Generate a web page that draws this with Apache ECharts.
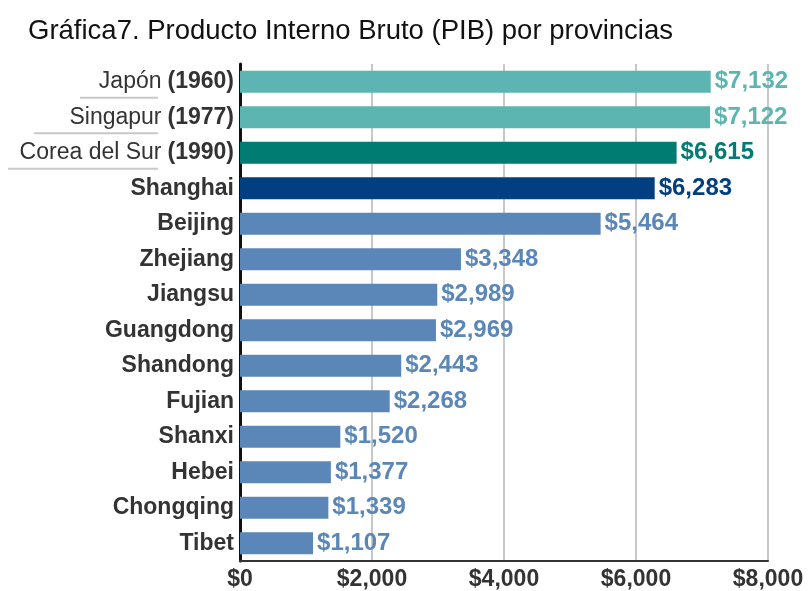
<!DOCTYPE html>
<html>
<head>
<meta charset="utf-8">
<script src="https://cdn.jsdelivr.net/npm/echarts@6/dist/echarts.min.js"></script>
<style>
  html, body { margin: 0; padding: 0; background: #fff; }
  #chart { width: 808px; height: 591px; }
</style>
</head>
<body>
<div id="chart"></div>
<script>
const names = ["Japón", "Singapur", "Corea del Sur", "Shanghai", "Beijing", "Zhejiang", "Jiangsu",
  "Guangdong", "Shandong", "Fujian", "Shanxi", "Hebei", "Chongqing", "Tibet"];
const years = ["1960", "1977", "1990", "", "", "", "", "", "", "", "", "", "", ""];
const gdp = [7132, 7122, 6615, 6283, 5464, 3348, 2989, 2969, 2443, 2268, 1520, 1377, 1339, 1107];
const barColors = ["#5db5b1", "#5db5b1", "#007c73", "#013f80", "#5b87b8", "#5b87b8", "#5b87b8",
  "#5b87b8", "#5b87b8", "#5b87b8", "#5b87b8", "#5b87b8", "#5b87b8", "#5b87b8"];
const xTicks = [0, 2000, 4000, 6000, 8000];

const font = "Liberation Sans, Arial, sans-serif";
// grey underline widths under the country names (styling only)
const underlineW = { "Japón": 78, "Singapur": 124, "Corea del Sur": 150 };

const chart = echarts.init(document.getElementById("chart"));

const fmt = (v) => "$" + v.toLocaleString("en-US");

chart.setOption({
  animation: false,
  title: {
    text: "Gráfica7. Producto Interno Bruto (PIB) por provincias",
    left: 23,
    top: 12,
    textStyle: {
      fontFamily: font,
      fontSize: 27.5,
      fontWeight: "normal",
      color: "#111",
    },
  },
  grid: {
    left: 240,
    right: 40,
    top: 64,
    bottom: 30,
    containLabel: false,
  },
  xAxis: {
    type: "value",
    min: xTicks[0],
    max: xTicks[xTicks.length - 1],
    interval: 2000,
    axisLine: { show: true, lineStyle: { color: "#333", width: 2 } },
    axisTick: { show: false },
    splitLine: { show: true, lineStyle: { color: "#c8c8c8", width: 2 } },
    axisLabel: {
      formatter: (v) => fmt(v),
      fontFamily: font,
      fontSize: 23,
      fontWeight: "bold",
      color: "#333",
      margin: 7,
    },
  },
  yAxis: {
    type: "category",
    inverse: true,
    data: names,
    axisLine: { show: true, lineStyle: { color: "#111", width: 3 } },
    axisTick: { show: false },
    axisLabel: {
      margin: 6,
      interval: 0,
      showMinLabel: true,
      showMaxLabel: true,
      hideOverlap: false,
      formatter: (v, i) => {
        if (years[i]) {
          return "{t|}\n{n|" + v + "}{gap|}{b|(" + years[i] + ")}\n{u" + i + "|}{sp|}";
        }
        return "{b|" + v + "}";
      },
      rich: {
        t: { height: 1, lineHeight: 6 },
        n: { fontFamily: font, fontSize: 23, color: "#333", fontWeight: "normal", lineHeight: 26 },
        b: { fontFamily: font, fontSize: 23, color: "#333", fontWeight: "bold", lineHeight: 26 },
        gap: { width: 6, height: 1 },
        u0: { width: underlineW["Japón"], height: 2, lineHeight: 6, backgroundColor: "#c8c8c8" },
        u1: { width: underlineW["Singapur"], height: 2, lineHeight: 6, backgroundColor: "#c8c8c8" },
        u2: { width: underlineW["Corea del Sur"], height: 2, lineHeight: 6, backgroundColor: "#c8c8c8" },
        sp: { width: 76, height: 1, lineHeight: 6 },
      },
    },
  },
  series: [
    {
      type: "bar",
      data: gdp.map((v, i) => ({
        value: v,
        itemStyle: { color: barColors[i] },
        label: { color: barColors[i] },
      })),
      barCategoryGap: "38%",
      label: {
        show: true,
        position: "right",
        distance: 4,
        formatter: (p) => fmt(p.value),
        fontFamily: font,
        fontSize: 24,
        fontWeight: "bold",
      },
    },
  ],
});

window.addEventListener("resize", () => chart.resize());
</script>
</body>
</html>
